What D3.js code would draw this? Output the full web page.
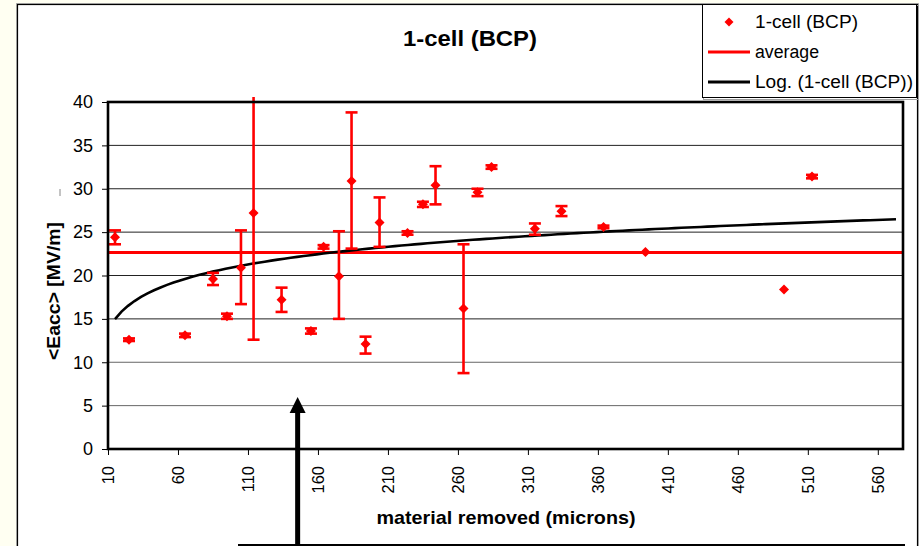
<!DOCTYPE html>
<html>
<head>
<meta charset="utf-8">
<script src="https://cdn.jsdelivr.net/npm/d3@7/dist/d3.min.js"></script>
<style>
  html, body { margin: 0; padding: 0; background: #fffff2; }
  svg { display: block; }
  text { font-family: "Liberation Sans", Arial, sans-serif; fill: #000; }
</style>
</head>
<body>
<svg id="chart" width="919" height="546"></svg>
<script>
// Material removed (microns) for each 1-cell BCP test
const removed = [15, 25, 65, 85, 95, 105, 114, 134, 155, 164, 175, 184, 194,
                 204, 224, 235, 244, 264, 274, 284, 315, 334, 364, 394, 493, 513];
// Mean accelerating gradient <Eacc> (MV/m)
const eacc = [24.4, 12.6, 13.1, 19.6, 15.3, 20.9, 27.2, 17.2, 13.6, 23.3, 19.9, 30.9, 12.1,
              26.1, 24.9, 28.2, 30.4, 16.2, 29.6, 32.5, 25.4, 27.4, 25.6, 22.7, 18.4, 31.4];
// Error bar extents above / below each value (MV/m)
const errPlus = [0.8, 0.15, 0.2, 0.7, 0.3, 4.3, 14.6, 1.4, 0.3, 0.2, 5.2, 7.9, 0.85,
                 2.9, 0.2, 0.3, 2.2, 7.4, 0.4, 0.2, 0.6, 0.6, 0.15, 0, 0, 0.2];
const errMinus = [0.8, 0.15, 0.2, 0.7, 0.3, 4.2, 14.6, 1.4, 0.3, 0.2, 4.9, 7.8, 1.1,
                  2.8, 0.2, 0.3, 2.2, 7.45, 0.45, 0.2, 0.7, 0.55, 0.15, 0, 0, 0.2];

const xTicks = [10, 60, 110, 160, 210, 260, 310, 360, 410, 460, 510, 560];
const yTicks = [0, 5, 10, 15, 20, 25, 30, 35, 40];
const legendLabels = ["1-cell (BCP)", "average", "Log. (1-cell (BCP))"];
const trendForecast = 60;   // forward extension of the log trendline (microns)
const arrowAt = [145.5, 6]; // annotation arrow: x position and tip value

const RED = "#ff0000";
const svg = d3.select("#chart");

// Chart frame
svg.append("rect").attr("x", 16.5).attr("y", 3.5).attr("width", 902).attr("height", 560)
  .attr("fill", "none").attr("stroke", "#b0b0b0").attr("stroke-width", 1);
svg.append("rect").attr("x", 17.5).attr("y", 4.5).attr("width", 900).attr("height", 560)
  .attr("fill", "#ffffff").attr("stroke", "#000").attr("stroke-width", 1.2);

const plot = { left: 108, right: 903, top: 102, bottom: 449 };
const x = d3.scaleLinear().domain([10, 578]).range([plot.left, plot.right]);
const y = d3.scaleLinear().domain([0, 40]).range([plot.bottom, plot.top]);

// Gridlines
svg.append("g").selectAll("line").data(yTicks.filter(v => v > 0 && v < 40)).join("line")
  .attr("x1", plot.left).attr("x2", plot.right)
  .attr("y1", d => y(d)).attr("y2", d => y(d))
  .attr("stroke", d => d <= 10 ? "#666" : "#222").attr("stroke-width", 1);

// Axes
const yAxis = svg.append("g").attr("transform", `translate(${plot.left},0)`)
  .call(d3.axisLeft(y).tickValues(yTicks).tickSize(6).tickPadding(9));
yAxis.select(".domain").remove();
yAxis.selectAll("text").style("font-size", "18px").attr("font-family", null);
yAxis.selectAll("line").attr("stroke", "#000");

const xAxis = svg.append("g").attr("transform", `translate(0,${plot.bottom})`)
  .call(d3.axisBottom(x).tickValues(xTicks).tickSize(6));
xAxis.select(".domain").remove();
xAxis.selectAll("line").attr("stroke", "#000");
xAxis.selectAll("text")
  .attr("transform", "rotate(-90)")
  .attr("x", -17).attr("y", 0).attr("dy", "0.35em")
  .attr("text-anchor", "end")
  .attr("font-family", null)
  .style("font-size", "16.5px");

// Clip for marks slightly beyond the plot area
svg.append("clipPath").attr("id", "plotclip").append("rect")
  .attr("x", plot.left - 10).attr("y", plot.top - 5)
  .attr("width", plot.right - plot.left + 20).attr("height", plot.bottom - plot.top + 10);

const marks = svg.append("g").attr("clip-path", "url(#plotclip)");
const pts = removed.map((r, i) => ({ x: r, y: eacc[i], hi: eacc[i] + errPlus[i], lo: eacc[i] - errMinus[i] }));

// Average line
const avg = d3.mean(eacc);
marks.append("line")
  .attr("x1", plot.left).attr("x2", plot.right)
  .attr("y1", y(avg)).attr("y2", y(avg))
  .attr("stroke", RED).attr("stroke-width", 3);

// Logarithmic trendline: least-squares fit of eacc against ln(removed)
const lx = removed.map(Math.log);
const mx = d3.mean(lx), my = d3.mean(eacc);
const slope = d3.sum(lx, (v, i) => (v - mx) * (eacc[i] - my)) / d3.sum(lx, v => (v - mx) * (v - mx));
const icpt = my - slope * mx;
const x0 = d3.min(removed), x1 = d3.max(removed) + trendForecast;
const trendX = d3.range(0, 121).map(k => x0 + (x1 - x0) * k / 120);
marks.append("path")
  .datum(trendX)
  .attr("fill", "none").attr("stroke", "#000").attr("stroke-width", 2.6)
  .attr("d", d3.line().x(d => x(d)).y(d => y(icpt + slope * Math.log(d))));

// Error bars
const eb = marks.append("g").attr("stroke", RED).attr("stroke-width", 2.6)
  .selectAll("g").data(pts.filter(p => p.hi > p.lo)).join("g");
eb.append("line").attr("x1", d => x(d.x)).attr("x2", d => x(d.x))
  .attr("y1", d => y(d.hi)).attr("y2", d => y(d.lo));
eb.append("line").attr("x1", d => x(d.x) - 6).attr("x2", d => x(d.x) + 6)
  .attr("y1", d => y(d.hi)).attr("y2", d => y(d.hi));
eb.append("line").attr("x1", d => x(d.x) - 6).attr("x2", d => x(d.x) + 6)
  .attr("y1", d => y(d.lo)).attr("y2", d => y(d.lo));

// Diamond markers
const diamond = r => `M0,${-r}L${r},0L0,${r}L${-r},0Z`;
marks.append("g").selectAll("path").data(pts).join("path")
  .attr("transform", d => `translate(${x(d.x)},${y(d.y)})`)
  .attr("d", diamond(5)).attr("fill", RED);

// Plot border
svg.append("rect").attr("x", plot.left).attr("y", plot.top)
  .attr("width", plot.right - plot.left).attr("height", plot.bottom - plot.top)
  .attr("fill", "none").attr("stroke", "#000").attr("stroke-width", 2.6);

// Titles
svg.append("text").attr("x", 470).attr("y", 46).attr("text-anchor", "middle")
  .attr("textLength", 134).attr("lengthAdjust", "spacingAndGlyphs")
  .style("font-size", "22px").style("font-weight", "bold").text("1-cell (BCP)");
svg.append("text").attr("x", 506).attr("y", 524).attr("text-anchor", "middle")
  .attr("textLength", 259).attr("lengthAdjust", "spacingAndGlyphs")
  .style("font-size", "19px").style("font-weight", "bold").text("material removed (microns)");
svg.append("text").attr("transform", "translate(59.5,291) rotate(-90)").attr("text-anchor", "middle")
  .attr("textLength", 138).attr("lengthAdjust", "spacingAndGlyphs")
  .style("font-size", "18px").style("font-weight", "bold").text("<Eacc> [MV/m]");
svg.append("line").attr("x1", 60).attr("x2", 60).attr("y1", 189).attr("y2", 196)
  .attr("stroke", "#888").attr("stroke-width", 1);

// Annotation arrow
const ax = x(arrowAt[0]), ay = y(arrowAt[1]);
svg.append("line").attr("x1", ax).attr("x2", ax).attr("y1", 546).attr("y2", ay + 12)
  .attr("stroke", "#000").attr("stroke-width", 5);
svg.append("path").attr("d", `M${ax},${ay}L${ax + 8},${ay + 16}L${ax - 8},${ay + 16}Z`).attr("fill", "#000");
svg.append("line").attr("x1", 238).attr("x2", 905).attr("y1", 545).attr("y2", 545)
  .attr("stroke", "#000").attr("stroke-width", 2);

// Legend
const lg = svg.append("g");
lg.append("rect").attr("x", 703.5).attr("y", 5.5).attr("width", 215).attr("height", 94)
  .attr("fill", "none").attr("stroke", "#a0a0a0").attr("stroke-width", 1);
lg.append("rect").attr("x", 702.5).attr("y", 4.5).attr("width", 214).attr("height", 93)
  .attr("fill", "#fff").attr("stroke", "#000").attr("stroke-width", 1);
const rows = [22, 52, 82];
const legendWidths = [103, 64, 158];
lg.append("path").attr("transform", `translate(729,${rows[0]})`).attr("d", diamond(4.5)).attr("fill", RED);
lg.append("line").attr("x1", 708).attr("x2", 750).attr("y1", rows[1]).attr("y2", rows[1])
  .attr("stroke", RED).attr("stroke-width", 3);
lg.append("line").attr("x1", 708).attr("x2", 750).attr("y1", rows[2]).attr("y2", rows[2])
  .attr("stroke", "#000").attr("stroke-width", 3);
lg.selectAll("text.lbl").data(legendLabels).join("text").attr("class", "lbl")
  .attr("x", 755).attr("y", (d, i) => rows[i]).attr("dy", "0.36em")
  .attr("textLength", (d, i) => legendWidths[i]).attr("lengthAdjust", "spacingAndGlyphs")
  .style("font-size", "18px").text(d => d);
</script>
</body>
</html>
